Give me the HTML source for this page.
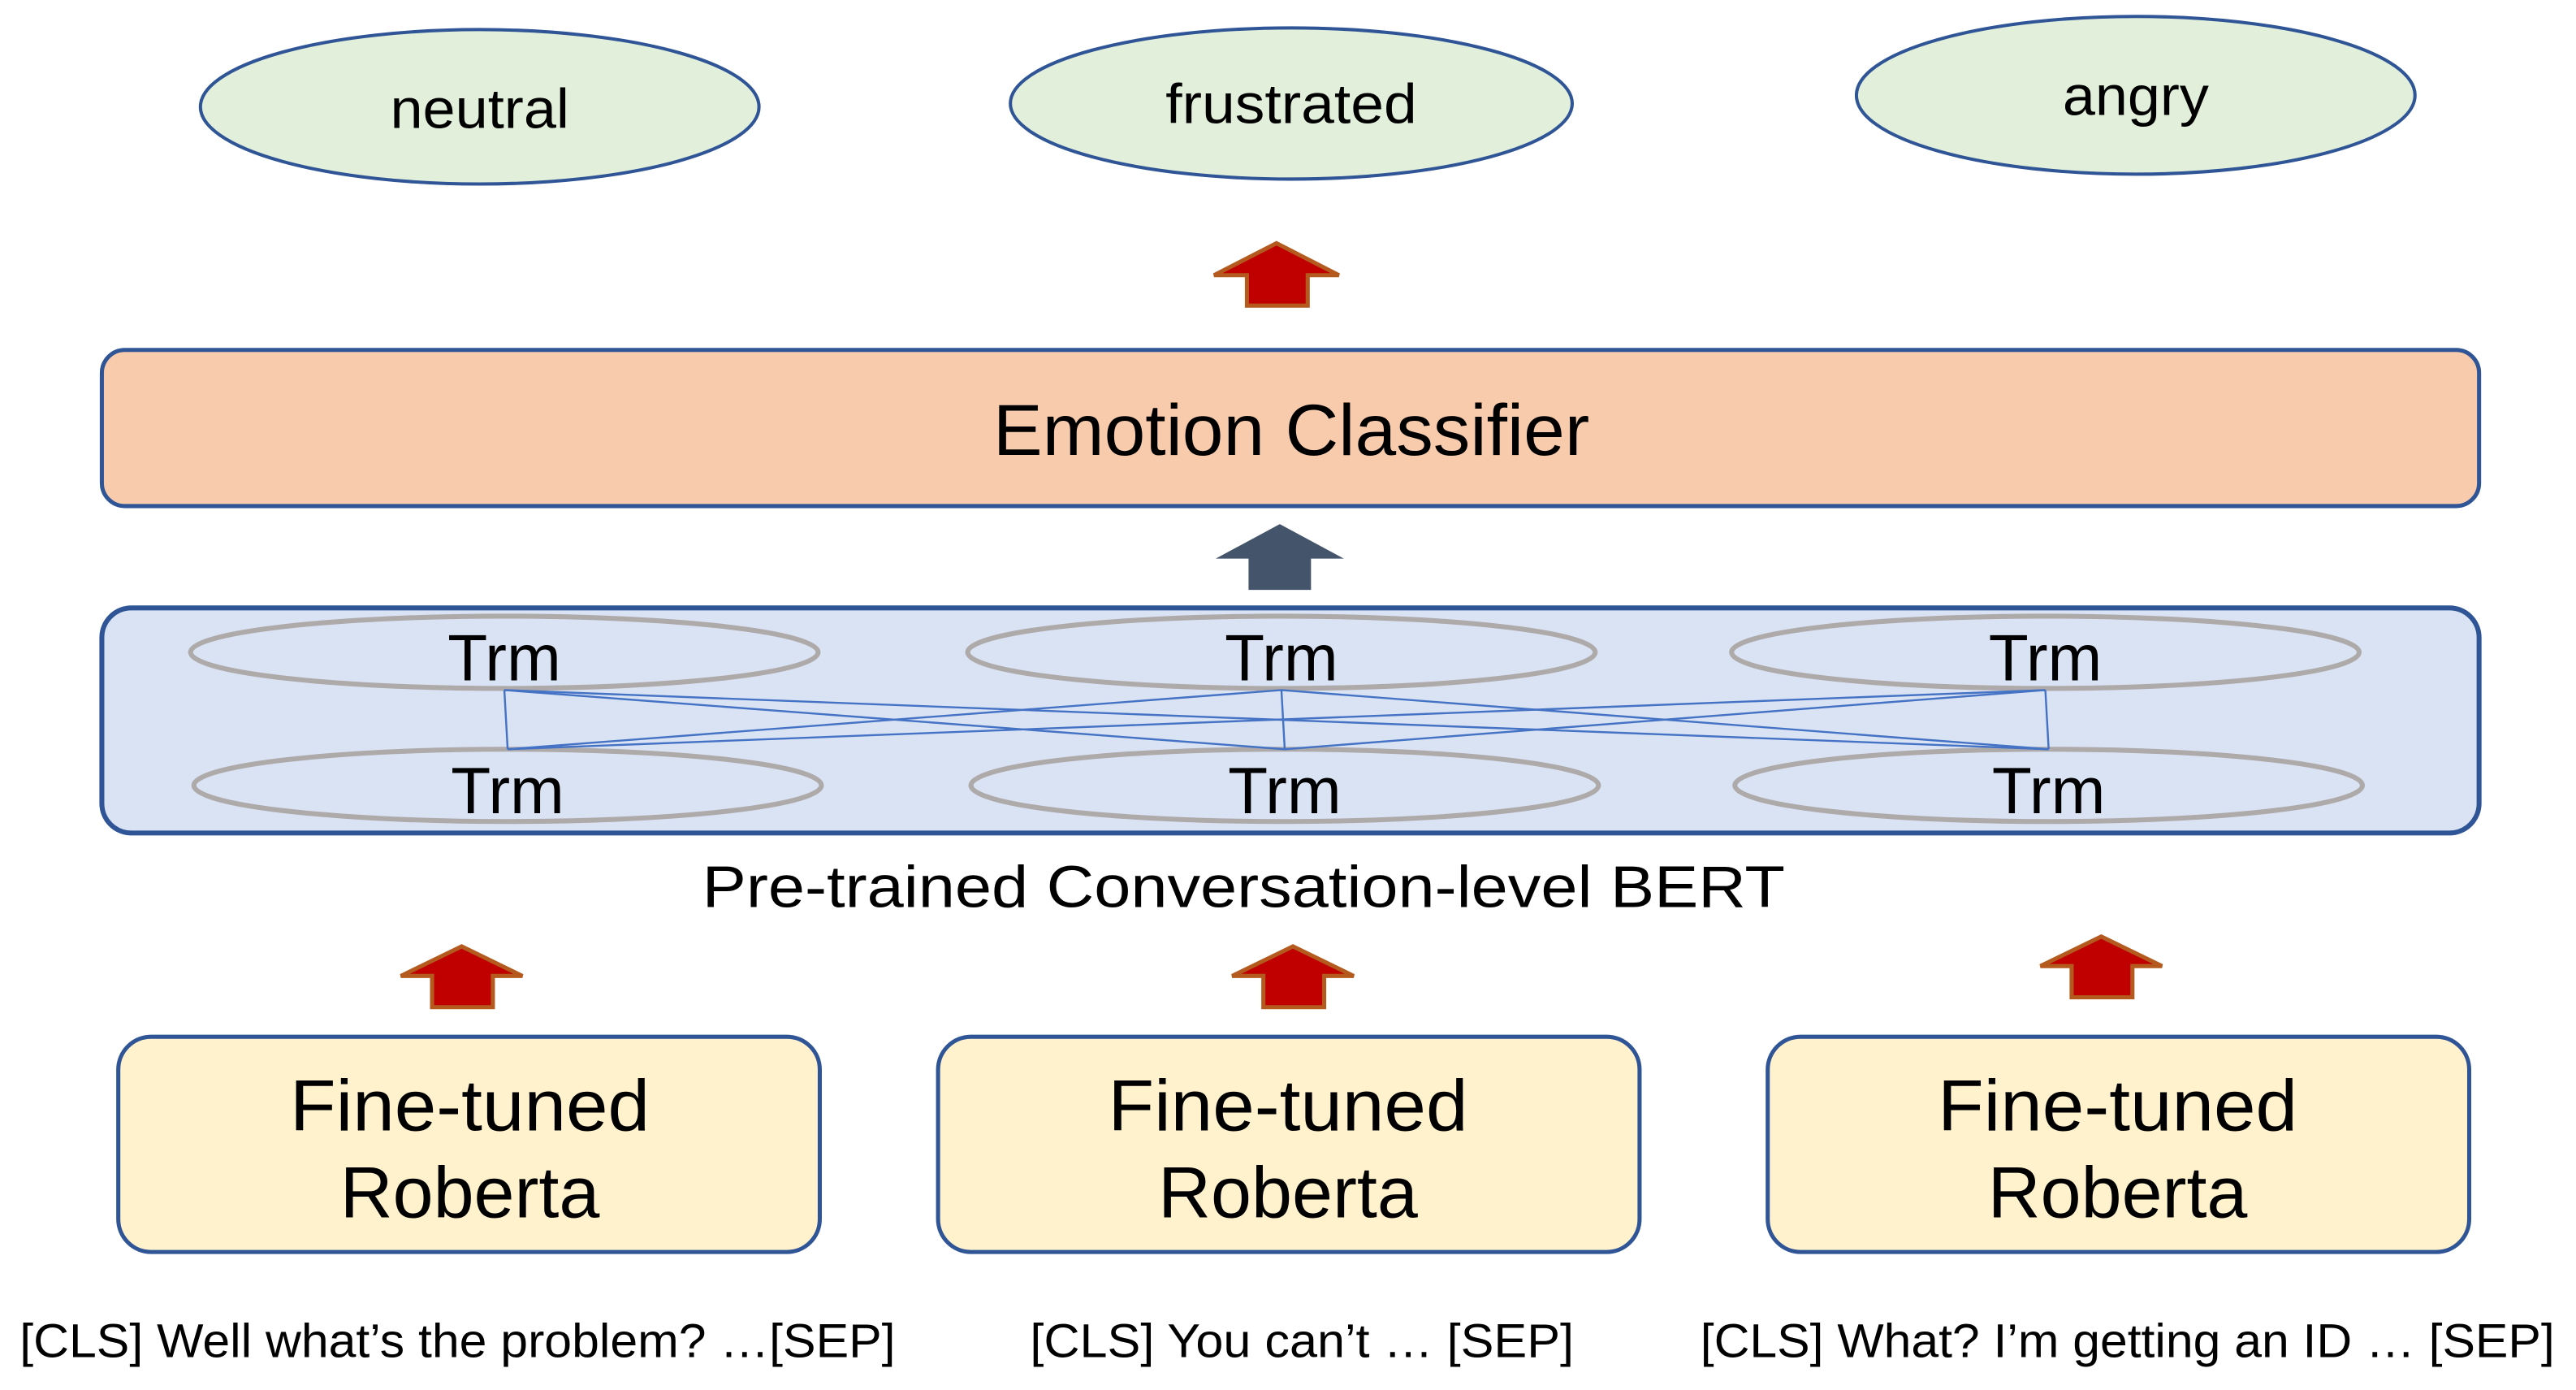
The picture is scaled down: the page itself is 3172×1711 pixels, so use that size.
<!DOCTYPE html>
<html><head><meta charset="utf-8"><style>
html,body{margin:0;padding:0;background:#fff;width:3172px;height:1711px;overflow:hidden}
svg{display:block}
text{font-family:"Liberation Sans",sans-serif;fill:#000}
</style></head><body>
<svg width="3172" height="1711" viewBox="0 0 1568 846" preserveAspectRatio="none" xmlns="http://www.w3.org/2000/svg">
<g fill="#e2efda" stroke="#2f5597" stroke-width="2">
<ellipse cx="292" cy="65" rx="170" ry="47"/>
<ellipse cx="786" cy="63" rx="171" ry="46"/>
<ellipse cx="1300" cy="58" rx="170" ry="48"/>
</g>
<g font-size="34" text-anchor="middle">
<text x="292" y="78" textLength="109" lengthAdjust="spacingAndGlyphs">neutral</text>
<text x="786" y="75" textLength="153" lengthAdjust="spacingAndGlyphs">frustrated</text>
<text x="1300" y="70" textLength="89" lengthAdjust="spacingAndGlyphs">angry</text>
</g>
<polygon points="777,148 815,167.5 796,167.5 796,186 759,186 759,167.5 739,167.5" fill="#c00000" stroke="#b45a1e" stroke-width="2.5"/>
<rect x="62" y="213" width="1447" height="95" rx="14" fill="#f8cbad" stroke="#2f5597" stroke-width="2.5"/>
<text x="786" y="277" font-size="44" text-anchor="middle" textLength="363" lengthAdjust="spacingAndGlyphs">Emotion Classifier</text>
<polygon points="779,319 818,340 798,340 798,359 760,359 760,340 740,340" fill="#44546a"/>
<rect x="62" y="370" width="1447" height="137" rx="18" fill="#dae3f3" stroke="#2f5597" stroke-width="3"/>
<g fill="none" stroke="#aeaaaa" stroke-width="3">
<ellipse cx="307" cy="397" rx="191" ry="22"/>
<ellipse cx="780" cy="397" rx="191" ry="22"/>
<ellipse cx="1245" cy="397" rx="191" ry="22"/>
<ellipse cx="309" cy="478" rx="191" ry="22"/>
<ellipse cx="782" cy="478" rx="191" ry="22"/>
<ellipse cx="1247" cy="478" rx="191" ry="22"/>
</g>
<g stroke="#4472c4" stroke-width="1.2">
<line x1="307" y1="420" x2="309" y2="456"/><line x1="307" y1="420" x2="782" y2="456"/><line x1="307" y1="420" x2="1247" y2="456"/>
<line x1="780" y1="420" x2="309" y2="456"/><line x1="780" y1="420" x2="782" y2="456"/><line x1="780" y1="420" x2="1247" y2="456"/>
<line x1="1245" y1="420" x2="309" y2="456"/><line x1="1245" y1="420" x2="782" y2="456"/><line x1="1245" y1="420" x2="1247" y2="456"/>
</g>
<g font-size="40" text-anchor="middle">
<text x="307" y="414" textLength="69" lengthAdjust="spacingAndGlyphs">Trm</text>
<text x="780" y="414" textLength="69" lengthAdjust="spacingAndGlyphs">Trm</text>
<text x="1245" y="414" textLength="69" lengthAdjust="spacingAndGlyphs">Trm</text>
<text x="309" y="495" textLength="69" lengthAdjust="spacingAndGlyphs">Trm</text>
<text x="782" y="495" textLength="69" lengthAdjust="spacingAndGlyphs">Trm</text>
<text x="1247" y="495" textLength="69" lengthAdjust="spacingAndGlyphs">Trm</text>
</g>
<text x="757" y="552" font-size="36" text-anchor="middle" textLength="659" lengthAdjust="spacingAndGlyphs">Pre-trained Conversation-level BERT</text>
<g fill="#c00000" stroke="#b45a1e" stroke-width="2.5">
<polygon points="281,576 318,594 300,594 300,613 263,613 263,594 244,594"/>
<polygon points="787,576 824,594 806,594 806,613 769,613 769,594 750,594"/>
<polygon points="1279,570 1316,588 1298,588 1298,607 1261,607 1261,588 1242,588"/>
</g>
<g fill="#fff2cc" stroke="#2f5597" stroke-width="2.5">
<rect x="72" y="631" width="427" height="131" rx="20"/>
<rect x="571" y="631" width="427" height="131" rx="20"/>
<rect x="1076" y="631" width="427" height="131" rx="20"/>
</g>
<g font-size="44" text-anchor="middle">
<text x="286" y="688" textLength="219" lengthAdjust="spacingAndGlyphs">Fine-tuned</text>
<text x="286" y="741" textLength="158" lengthAdjust="spacingAndGlyphs">Roberta</text>
<text x="784" y="688" textLength="219" lengthAdjust="spacingAndGlyphs">Fine-tuned</text>
<text x="784" y="741" textLength="158" lengthAdjust="spacingAndGlyphs">Roberta</text>
<text x="1289" y="688" textLength="219" lengthAdjust="spacingAndGlyphs">Fine-tuned</text>
<text x="1289" y="741" textLength="158" lengthAdjust="spacingAndGlyphs">Roberta</text>
</g>
<g font-size="29">
<text x="12" y="826" textLength="533" lengthAdjust="spacingAndGlyphs">[CLS] Well what’s the problem? …[SEP]</text>
<text x="627" y="826" textLength="331" lengthAdjust="spacingAndGlyphs">[CLS] You can’t … [SEP]</text>
<text x="1035" y="826" textLength="520" lengthAdjust="spacingAndGlyphs">[CLS] What? I’m getting an ID … [SEP]</text>
</g>
</svg>
</body></html>
